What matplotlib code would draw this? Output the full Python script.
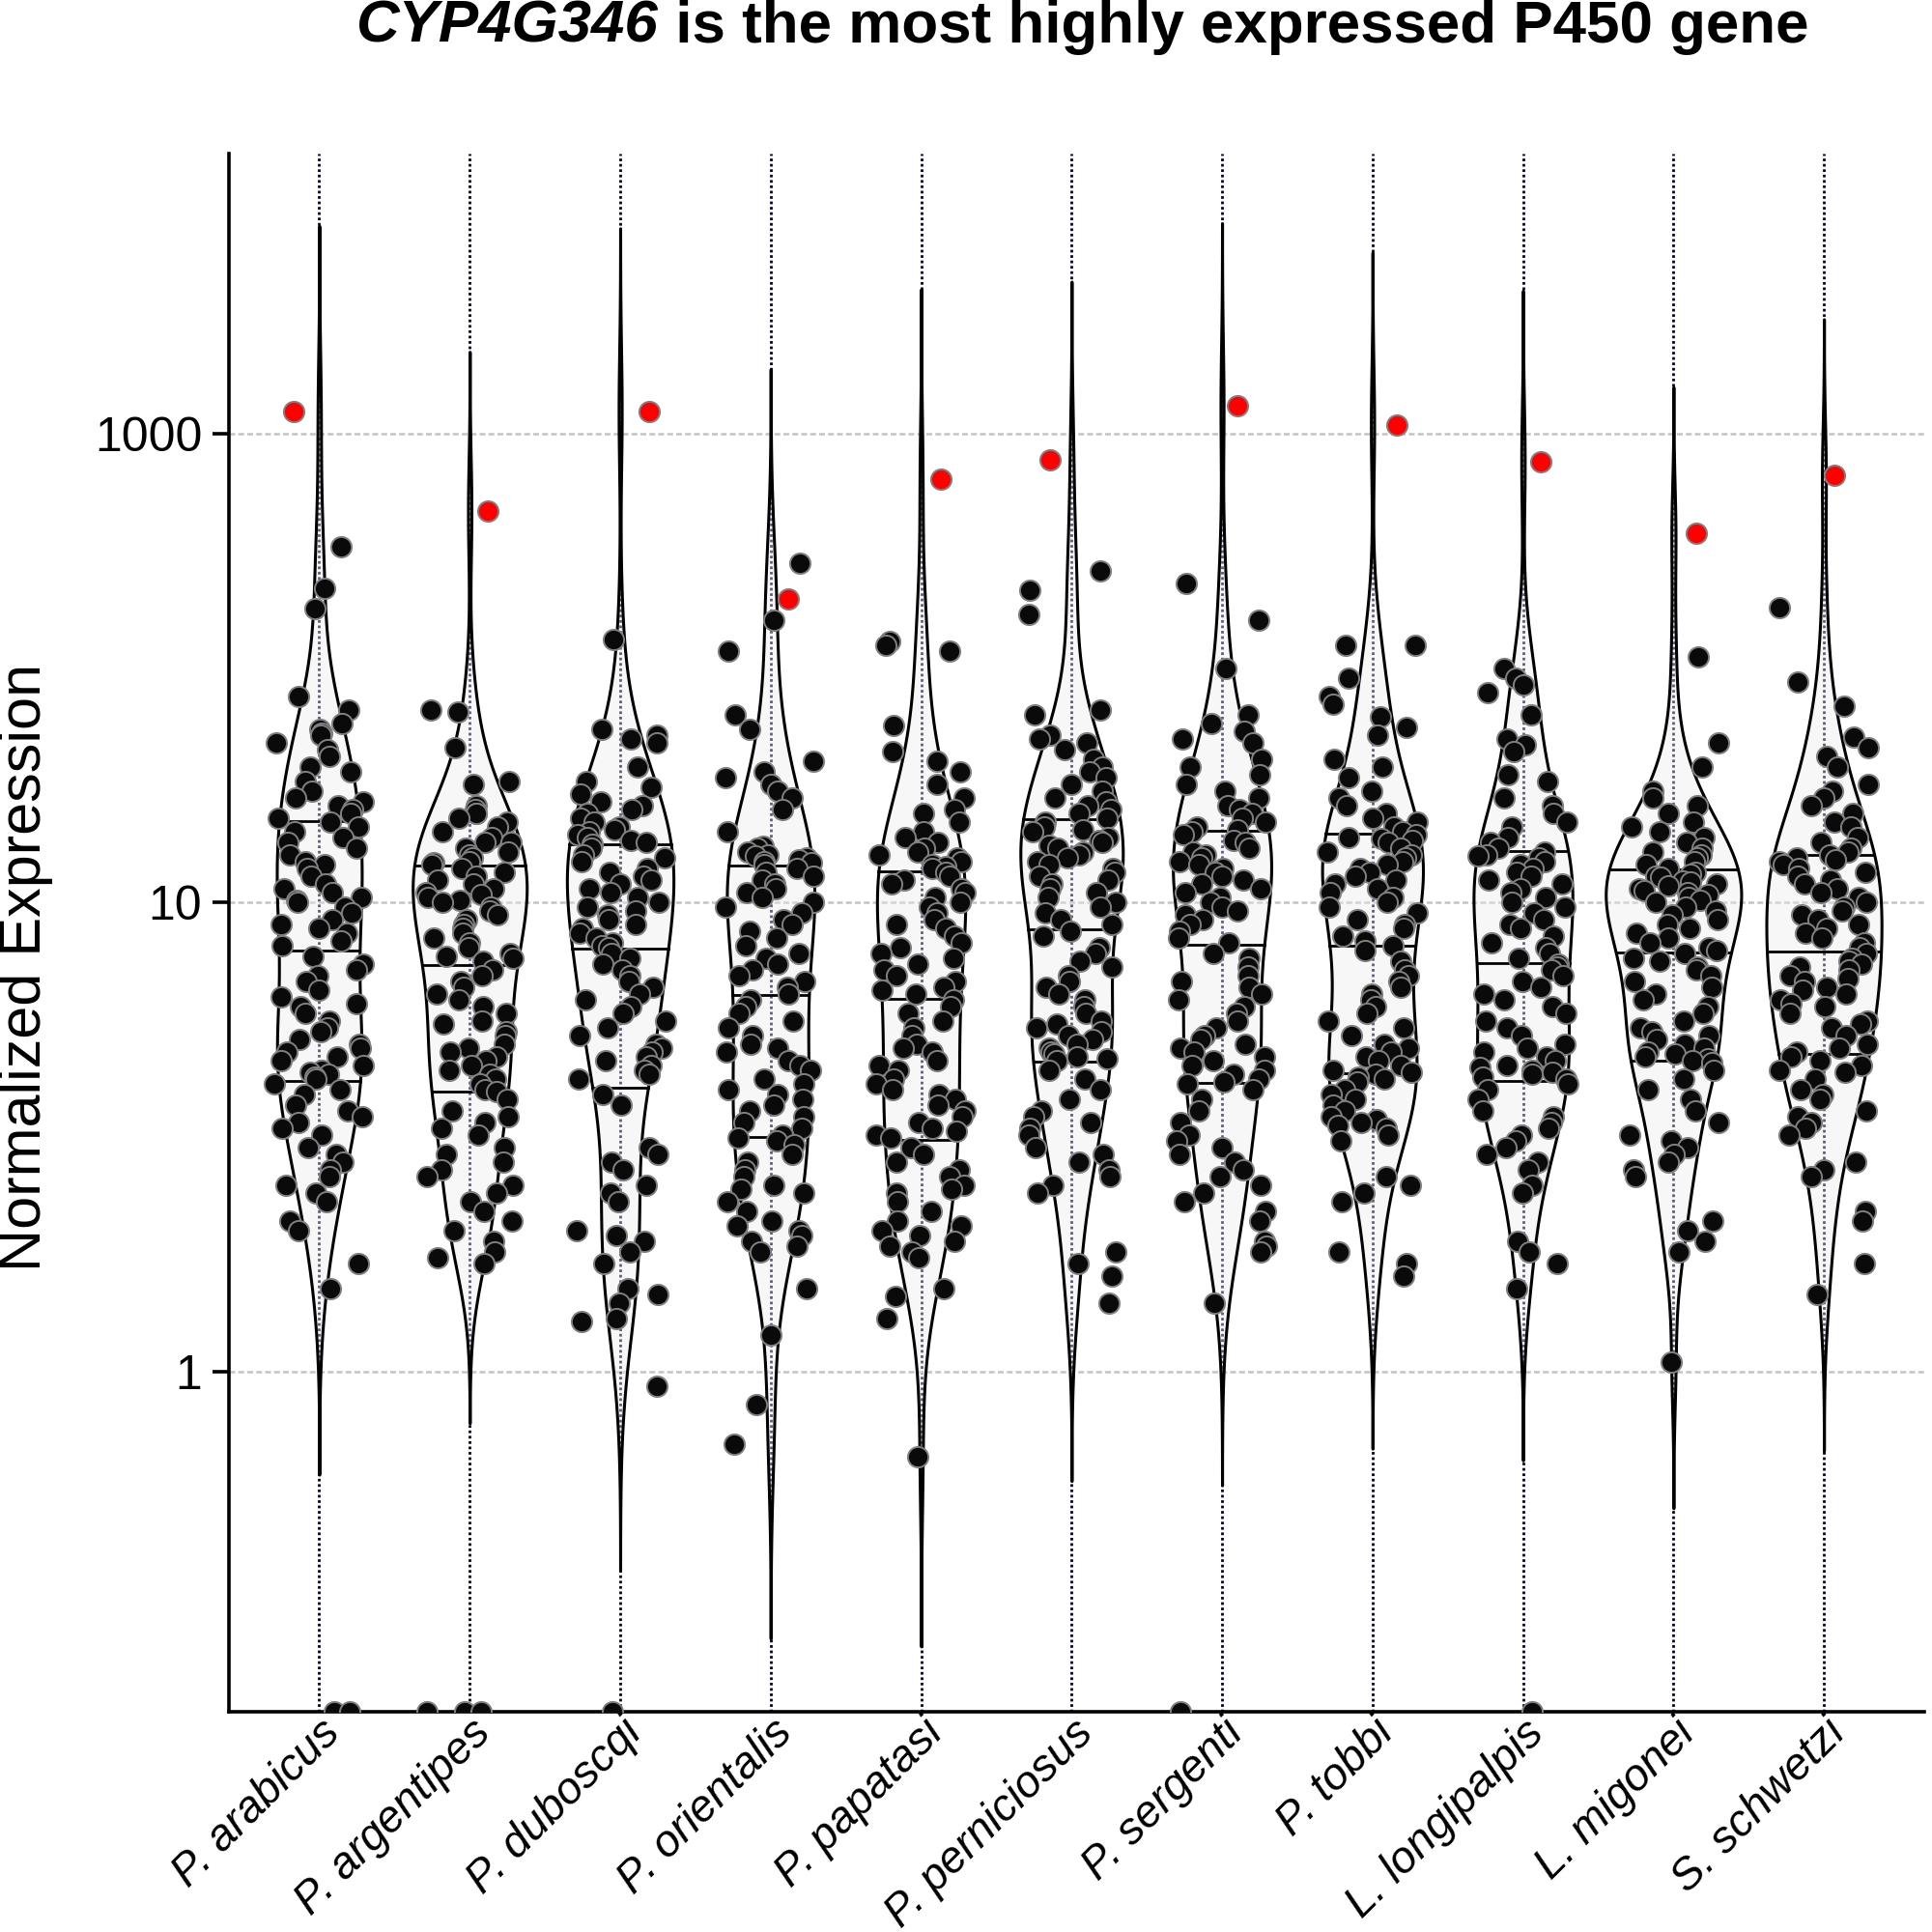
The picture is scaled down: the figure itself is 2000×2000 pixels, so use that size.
import numpy as np
import matplotlib.pyplot as plt
from matplotlib.ticker import NullLocator
from matplotlib.offsetbox import TextArea, HPacker, AnchoredOffsetbox

plt.rcParams['font.family'] = ['Liberation Sans', 'DejaVu Sans']

#################################################
# data (0 = not expressed)
species = ["P. arabicus", "P. argentipes", "P. duboscqi", "P. orientalis", "P. papatasi",
           "P. perniciosus", "P. sergenti", "P. tobbi", "L. longipalpis", "L. migonei", "S. schwetzi"]

expr_arabicus = [330, 220, 180, 76, 66, 58, 55, 53, 52, 48, 45, 42, 38, 36, 33, 30, 28, 27, 26, 25, 24, 23,
                 22, 21, 20, 19, 18, 17, 16, 15, 14.5, 14, 13, 12, 11.5, 11, 10.5, 10.2, 10, 9.8, 9.5, 9.2, 9, 8.8, 8.6, 8.3, 8.1,
                 7.7, 7.4, 7.2, 7.0, 6.8, 6.5, 6.3, 6.1, 6.0, 5.8, 5.6, 5.4, 5.3, 5.1, 5.0, 4.9, 4.8, 4.7, 4.6, 4.5, 4.4, 4.35, 4.3, 4.25, 4.2,
                 4.1, 4.0, 3.9, 3.7, 3.6, 3.5, 3.4, 3.3, 3.2, 3.0, 2.9, 2.8, 2.7, 2.6, 2.5, 2.4, 2.3, 2.1, 2.0, 1.7, 1.5, 0, 0]
expr_argentipes = [66, 65, 46, 33, 32, 26, 25, 24, 24, 23, 22, 21, 20, 19, 18, 18, 17, 16.5, 16, 15.5, 15, 14.8, 14.5,
                   14, 13.5, 13, 12.5, 12, 11.5, 11, 10.8, 10.5, 10.2, 10, 9.8, 9.6, 9.4, 9.2, 9.0, 8.8, 8.6, 8.4, 8.2, 8.0, 7.8, 7.7, 7.6, 7.5,
                   7.2, 7.0, 6.8, 6.6, 6.4, 6.2, 6.0, 5.8, 5.6, 5.5, 5.3, 5.2, 5.0, 4.9, 4.8, 4.7, 4.6, 4.5, 4.4, 4.3, 4.2, 4.1, 4.0, 3.95,
                   3.8, 3.6, 3.5, 3.4, 3.3, 3.2, 3.0, 2.9, 2.8, 2.7, 2.6, 2.5, 2.4, 2.3, 2.2, 2.1, 2.0, 1.9, 1.8, 1.75, 1.7, 0, 0, 0]
expr_duboscqi = [132, 55, 52, 50, 48, 38, 33, 31, 29, 27, 26, 25, 24, 23, 22, 21, 20.5, 20, 19.5, 19, 18.5, 18, 17.7,
                 17, 16, 15.5, 15, 14, 13.5, 13, 12.5, 12, 11.5, 11, 10.5, 10, 9.8, 9.6, 9.4, 9.2, 9.0, 8.8, 8.6, 8.4, 8.2, 8.1, 8.0,
                 7.8, 7.6, 7.4, 7.2, 7.0, 6.8, 6.6, 6.4, 6.2, 6.0, 5.8, 5.6, 5.4, 5.2, 5.0, 4.9, 4.8, 4.7, 4.6, 4.5, 4.4, 4.3, 4.2,
                 3.9, 3.7, 3.0, 2.9, 2.8, 2.7, 2.5, 2.4, 2.3, 2.0, 1.95, 1.9, 1.8, 1.7, 1.5, 1.46, 1.4, 1.3, 1.28, 0.93, 0]
expr_orientalis = [280, 160, 118, 63, 55, 40, 36, 34, 32, 30, 28, 25, 20, 17.4, 17, 16.5, 16, 15.8, 15.5, 15.2, 15, 14.8, 14.6,
                   14, 13.5, 13, 12.5, 12, 11.5, 11, 10.5, 10, 9.8, 9.5, 9.2, 9.0, 8.7, 8.4, 8.1, 7.8, 7.6, 7.4, 7.2, 7.0, 6.8, 6.6, 6.4, 6.2,
                   6.0, 5.8, 5.6, 5.4, 5.2, 5.0, 4.9, 4.8, 4.6, 4.5, 4.4, 4.2, 4.1, 4.0, 3.9, 3.8, 3.7, 3.6, 3.5, 3.4, 3.3, 3.2, 3.15, 3.1, 3.05,
                   2.9, 2.8, 2.7, 2.6, 2.5, 2.45, 2.4, 2.3, 2.2, 2.1, 2.05, 2.0, 1.95, 1.9, 1.85, 1.8, 1.5, 1.2, 0.85, 0.7]
expr_papatasi = [130, 125, 118, 57, 44, 40, 36, 32, 28, 25, 24, 22, 20, 19, 18, 17, 16.5, 16, 15.5, 15, 14.5, 14.2, 14,
                 13.5, 13, 12.5, 12, 11.5, 11, 10.5, 10, 9.8, 9.5, 9.2, 9, 8.8, 8.5, 8.2, 8, 7.8, 7.6, 7.4, 7.2, 7.0, 6.8, 6.6, 6.5, 6.4,
                 6.2, 6.0, 5.8, 5.6, 5.4, 5.2, 5.0, 4.9, 4.8, 4.6, 4.5, 4.4, 4.2, 4.1, 4.0, 3.9, 3.8, 3.7, 3.6, 3.5, 3.4, 3.3, 3.25, 3.2, 3.15,
                 3.0, 2.9, 2.8, 2.7, 2.6, 2.5, 2.45, 2.4, 2.3, 2.2, 2.1, 2.05, 2.0, 1.95, 1.9, 1.85, 1.8, 1.75, 1.5, 1.45, 1.3, 0.66]
expr_perniciosus = [260, 215, 170, 66, 63, 52, 50, 48, 45, 41, 38, 36, 34, 32, 30, 28, 27, 26, 25, 24, 23, 22, 21, 20.5, 20,
                    19, 18.5, 18, 17.5, 17, 16.5, 16, 15.5, 15, 14.5, 14, 13.5, 13, 12.5, 12, 11.5, 11, 10.5, 10, 9.8, 9.5, 9.2, 9, 8.7, 8.5,
                    8.0, 7.8, 7.5, 7.3, 7.0, 6.8, 6.6, 6.4, 6.2, 6.0, 5.8, 5.6, 5.5, 5.4, 5.3, 5.2, 5.1, 5.0, 4.9, 4.8, 4.75, 4.7, 4.65, 4.6,
                    4.4, 4.2, 4.0, 3.8, 3.6, 3.5, 3.4, 3.3, 3.2, 3.0, 2.9, 2.8, 2.7, 2.6, 2.5, 2.4, 1.8, 1.7, 1.6, 1.4]
expr_sergenti = [230, 160, 100, 63, 58, 54, 50, 48, 41, 38, 35, 32, 30, 28, 26, 25, 24, 23, 22, 21, 20.5, 20, 19.5,
                 18.5, 18, 17, 16.5, 16, 15.5, 15, 14.5, 14, 13.5, 13, 12.5, 12, 11.5, 11, 10.5, 10, 9.8, 9.6, 9.4, 9.2, 9.0, 8.7, 8.4, 8.2,
                 7.8, 7.6, 7.3, 7.0, 6.8, 6.6, 6.4, 6.2, 6.0, 5.8, 5.6, 5.4, 5.2, 5.1, 5.0, 4.9, 4.8, 4.7, 4.6, 4.5, 4.4, 4.3, 4.2, 4.15, 4.1,
                 4.0, 3.8, 3.6, 3.4, 3.2, 3.1, 3.0, 2.9, 2.8, 2.7, 2.6, 2.5, 2.4, 2.3, 2.2, 2.1, 1.9, 1.85, 1.8, 1.4, 0]
expr_tobbi = [125, 125, 91, 76, 70, 62, 56, 52, 41, 38, 34, 30, 28, 26, 24, 23, 22, 21, 20, 19.5, 19, 18.8, 18.5,
              18, 17, 16.5, 16, 15.5, 15, 14.5, 14, 13.5, 13, 12.5, 12, 11.5, 11, 10.5, 10, 9.8, 9.5, 9.2, 9, 8.8, 8.5, 8.3, 8.1, 7.9,
              7.5, 7.2, 7.0, 6.8, 6.6, 6.4, 6.2, 6.0, 5.8, 5.6, 5.4, 5.2, 5.0, 4.9, 4.8, 4.7, 4.6, 4.5, 4.4, 4.35, 4.3, 4.25, 4.2, 4.15,
              4.0, 3.9, 3.8, 3.7, 3.6, 3.5, 3.45, 3.4, 3.35, 3.3, 3.2, 3.1, 2.6, 2.5, 2.4, 2.3, 1.8, 1.7, 1.6]
expr_longipalpis = [100, 91, 85, 79, 63, 50, 47, 44, 35, 33, 28, 26, 24, 22, 21, 19, 18, 17, 16.5, 16, 15.8, 15.5,
                    15, 14.5, 14, 13.5, 13, 12.5, 12, 11.5, 11, 10.5, 10, 9.8, 9.5, 9.2, 9, 8.8, 8.5, 8.2, 8, 7.8, 7.6, 7.4, 7.3, 7.2,
                    7.0, 6.8, 6.6, 6.4, 6.2, 6.0, 5.8, 5.6, 5.4, 5.2, 5.0, 4.9, 4.8, 4.7, 4.6, 4.5, 4.45, 4.4, 4.35, 4.3, 4.25, 4.2,
                    4.1, 4.0, 3.8, 3.6, 3.5, 3.4, 3.3, 3.2, 3.1, 3.0, 2.9, 2.8, 2.7, 2.5, 2.4, 1.9, 1.8, 1.7, 1.5, 0]
expr_migonei = [112, 48, 38, 30, 28, 26, 24, 22, 21, 20, 19, 18, 17, 16.5, 16, 15.5, 15, 14.5, 14, 13.5, 13.2, 13, 12.8,
                12.4, 12.2, 12, 11.8, 11.5, 11.2, 11, 10.8, 10.5, 10.2, 10, 9.8, 9.6, 9.4, 9.2, 9, 8.8, 8.6, 8.4, 8.2, 8, 7.9, 7.8, 7.6, 7.5,
                7.3, 7.2, 7.0, 6.8, 6.6, 6.4, 6.2, 6.0, 5.8, 5.6, 5.4, 5.3, 5.2, 5.1, 5.0, 4.9, 4.8, 4.75, 4.7, 4.65, 4.6, 4.55,
                4.4, 4.2, 4.0, 3.8, 3.6, 3.4, 3.2, 3.1, 3.0, 2.9, 2.8, 2.7, 2.6, 2.1, 2.0, 1.9, 1.8, 1.05]
expr_schwetzi = [182, 87, 69, 51, 46, 42, 38, 32, 30, 28, 26, 24, 22, 21, 19, 18, 17, 16.5, 16, 15.5, 15.2, 15,
                 14.5, 14, 13.5, 13, 12.5, 12, 11.5, 11, 10.5, 10, 9.8, 9.6, 9.4, 9.2, 9, 8.8, 8.6, 8.4, 8.2, 8, 7.8, 7.6, 7.5, 7.4, 7.3, 7.2,
                 7.0, 6.9, 6.8, 6.6, 6.5, 6.4, 6.2, 6.1, 6.0, 5.8, 5.6, 5.5, 5.4, 5.2, 5.0, 4.9, 4.8, 4.7, 4.6, 4.5, 4.4, 4.35,
                 4.2, 4.0, 3.9, 3.8, 3.6, 3.5, 3.4, 3.3, 3.2, 2.8, 2.7, 2.6, 2.2, 2.1, 1.7, 1.46]

expr_all = [expr_arabicus, expr_argentipes, expr_duboscqi, expr_orientalis, expr_papatasi, expr_perniciosus,
            expr_sergenti, expr_tobbi, expr_longipalpis, expr_migonei, expr_schwetzi]

# CYP4G346 (red points)
cyp4g346 = [1244, 466, 1244, 197, 639, 776, 1321, 1086, 757, 375, 663]
red_jitter = [-0.17, 0.12, 0.19, 0.12, 0.13, -0.14, 0.10, 0.16, 0.12, 0.15, 0.07]

ytick_vals = [1, 10, 1000]
ytick_labels = ["1", "10", "1000"]


#################################################
# y axis: 1, 10, 1000 equally spaced
def fwd(v):
    v = np.asarray(v, dtype=float)
    lv = np.log10(np.maximum(v, 1e-300))
    return np.where(lv <= 1, lv, 1 + (lv - 1) / 2)


def inv(p):
    p = np.asarray(p, dtype=float)
    return np.where(p <= 1, 10.0 ** p, 10.0 ** (1 + 2 * (np.minimum(p, 10) - 1)))


fig = plt.figure(figsize=(10, 10), dpi=200)
ax = fig.add_axes([0.1185, 0.114, 0.8775, 0.8065])
ax.set_yscale('function', functions=(fwd, inv))

y_bottom = float(inv(-0.725))
y_top = float(inv(2.597))

#################################################
# violins (gaussian kde in axis space, ggplot style: trim = FALSE, scale = "area")
dens_list = []
for i, vals in enumerate(expr_all):
    v = np.array(vals + [cyp4g346[i]], dtype=float)
    p = fwd(v[v > 0])
    sd = p.std(ddof=1)
    iqr = np.subtract(*np.percentile(p, [75, 25]))
    bw = 0.9 * min(sd, iqr / 1.34) * len(p) ** -0.2
    grid = np.linspace(p.min() - 3 * bw, p.max() + 3 * bw, 512)
    dens = np.exp(-0.5 * ((grid[:, None] - p[None, :]) / bw) ** 2).sum(axis=1) / (len(p) * bw * np.sqrt(2 * np.pi))
    dens_list.append((grid, dens))

dmax = max(d.max() for g, d in dens_list)

for i, (grid, dens) in enumerate(dens_list):
    hw = dens / dmax * 0.45
    ax.fill_betweenx(inv(grid), i - hw, i + hw, facecolor=(0.92, 0.92, 0.92, 0.4),
                     edgecolor='black', linewidth=1.1, zorder=2)
    cdf = np.cumsum(dens) / dens.sum()
    q = np.interp([0.25, 0.5, 0.75], cdf, grid)
    qw = np.interp(q, grid, hw)
    for qq, ww in zip(q, qw):
        ax.plot([i - ww, i + ww], [inv(qq), inv(qq)], color='black', linewidth=1.0, zorder=2.5)

#################################################
# jittered points (width 0.3 each side)
for i, vals in enumerate(expr_all):
    v = np.array(vals, dtype=float)
    k = np.arange(len(v))
    h = np.sin((k + 1) * 12.9898 + (i + 1) * 78.233) * 43758.5453
    jit = 0.6 * ((h - np.floor(h)) - 0.5)
    y = np.where(v > 0, v, y_bottom)
    ax.scatter(i + jit, y, s=58, c='#0a0a0a', edgecolors='#808080', linewidths=0.7, zorder=3)

ax.scatter(np.arange(len(species)) + np.array(red_jitter), cyp4g346, s=58, c='#ff0000',
           edgecolors='#808080', linewidths=0.7, zorder=4)

#################################################
# axes
ax.set_xlim(-0.6, 10.667)
ax.set_ylim(y_bottom, y_top)

ax.set_xticks(range(len(species)))
ax.set_xticklabels(species, rotation=45, ha='right', va='top', rotation_mode='anchor',
                   fontstyle='italic', fontsize=16.6)
ax.tick_params(axis='x', length=0, pad=0)

ax.set_yticks(ytick_vals)
ax.set_yticklabels(ytick_labels, fontsize=18)
ax.yaxis.set_minor_locator(NullLocator())
ax.tick_params(axis='y', length=6, width=1.3, pad=4)

for s in ['top', 'right']:
    ax.spines[s].set_visible(False)
for s in ['left', 'bottom']:
    ax.spines[s].set_linewidth(1.3)

ax.set_axisbelow(True)
ax.grid(axis='x', color='#000033', linestyle=(0, (1.0, 1.0)), linewidth=1.0)
ax.grid(axis='y', color='#c4c4c4', linestyle=(0, (2.4, 1.3)), linewidth=0.9)

fig.text(0.0135, 0.4995, "Normalized Expression", rotation=90, ha='center', va='center', fontsize=22)

# title: gene name in bold italic
t1 = TextArea("CYP4G346", textprops=dict(fontsize=22.3, fontweight='bold', fontstyle='italic'))
t2 = TextArea(" is the most highly expressed P450 gene", textprops=dict(fontsize=22.3, fontweight='bold'))
box = HPacker(children=[t1, t2], align='baseline', pad=0, sep=0)
title = AnchoredOffsetbox(loc='upper center', child=box, pad=0, borderpad=0, frameon=False,
                          bbox_to_anchor=(0.5605, 1.0), bbox_transform=fig.transFigure)
fig.add_artist(title)

fig.savefig("out.png", dpi=200)
